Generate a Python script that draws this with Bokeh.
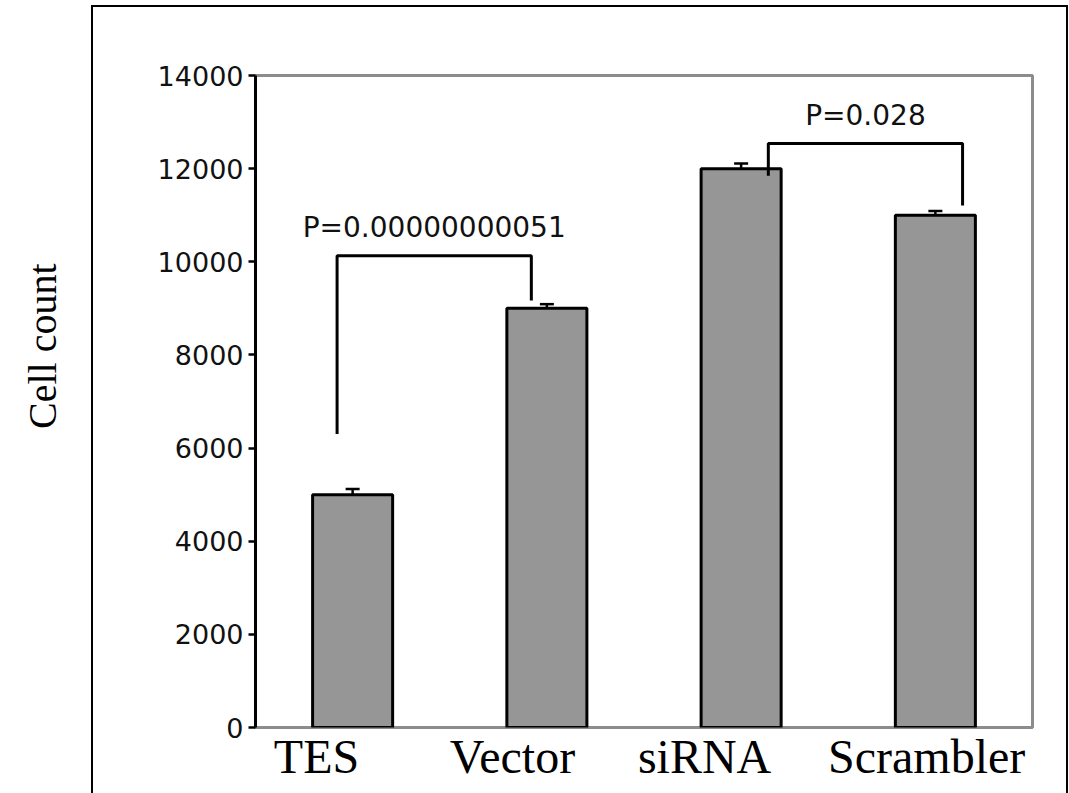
from bokeh.plotting import figure
from bokeh.models import (ColumnDataSource, Range1d, FixedTicker, Whisker,
                          TeeHead, Title, InlineStyleSheet)
from bokeh.core.properties import value
from bokeh.embed import file_html
from bokeh.resources import INLINE

# ---------------- data ----------------
categories = ["TES", "Vector", "siRNA", "Scrambler"]
cell_counts = [5000, 9000, 12000, 11000]
count_errors = [120, 90, 110, 90]
y_ticks = [0, 2000, 4000, 6000, 8000, 10000, 12000, 14000]
y_label = "Cell count"

# significance brackets: (left category, right category)
bracket_pairs = [("TES", "Vector"), ("siRNA", "Scrambler")]
bracket_texts = ["P=0.00000000051", "P=0.028"]
bracket_tops = [10130, 12540]
bracket_left_ends = [6300, 11850]
bracket_right_ends = [9170, 11210]

# ---------------- styling / positions ----------------
W, H = 1069, 793
frame_left, frame_right, frame_top, frame_bottom = 255, 1032, 75, 727
bar_fill = "#969696"
frame_grey = "#8c8c8c"
bracket_leg_shift = [-0.08, 0.14]
cat_label_shift = [-0.186, -0.177, -0.188, -0.045]

idx = {c: i for i, c in enumerate(categories)}
slot = [idx[c] + 0.5 for c in categories]   # slot centre of each category

p = figure(width=W, height=H, output_backend="svg", toolbar_location=None,
           x_range=Range1d(0, len(categories)),
           y_range=Range1d(0, 14000),
           min_border_left=frame_left, min_border_right=W - frame_right,
           min_border_top=frame_top, min_border_bottom=H - frame_bottom)

p.outline_line_color = frame_grey
p.outline_line_width = 3
p.xgrid.visible = False
p.ygrid.visible = False

ya = p.yaxis[0]
ya.ticker = FixedTicker(ticks=y_ticks)
ya.axis_line_color = "black"
ya.axis_line_width = 3
ya.major_tick_line_color = "black"
ya.major_tick_line_width = 2.5
ya.major_tick_out = 7
ya.major_tick_in = 0
ya.minor_tick_line_color = None
ya.major_label_text_font = "DejaVu Sans"
ya.major_label_text_font_size = "27px"
ya.major_label_text_color = "#111111"
ya.major_label_standoff = 5

# category axis: labels sit slightly left of the bar centres
lab_pos = [round(s + d, 3) for s, d in zip(slot, cat_label_shift)]
xa = p.xaxis[0]
xa.ticker = FixedTicker(ticks=lab_pos)
xa.major_label_overrides = {pos: c for pos, c in zip(lab_pos, categories)}
xa.axis_line_color = None
xa.major_tick_line_color = None
xa.minor_tick_line_color = None
xa.major_label_text_font = "Liberation Serif"
xa.major_label_text_font_size = "48px"
xa.major_label_text_color = "black"
xa.major_label_standoff = -4

src = ColumnDataSource(dict(
    x=slot, top=cell_counts,
    upper=[c + e for c, e in zip(cell_counts, count_errors)],
    lower=[c - e for c, e in zip(cell_counts, count_errors)],
))
p.vbar(x="x", top="top", width=0.412, source=src, fill_color=bar_fill,
       line_color="black", line_width=3)

wh = Whisker(base="x", upper="upper", lower="lower", source=src,
             line_color="black", line_width=2.5,
             upper_head=TeeHead(size=14, line_color="black", line_width=2.5),
             lower_head=TeeHead(size=14, line_color="black", line_width=2.5))
p.add_layout(wh)

# brackets
xs, ys, tx, ty = [], [], [], []
for (a, b), sh, top, le, re in zip(bracket_pairs, bracket_leg_shift, bracket_tops,
                                   bracket_left_ends, bracket_right_ends):
    xl = slot[idx[a]] + sh
    xr = slot[idx[b]] + sh
    xs.append([xl, xl, xr, xr])
    ys.append([le, top, top, re])
    tx.append((xl + xr) / 2)
    ty.append(top + 600)
p.multi_line(xs=xs, ys=ys, line_color="black", line_width=3)
p.text(x=tx, y=ty, text=bracket_texts, text_font=value("DejaVu Sans"),
       text_font_size="28px", text_align="center", text_baseline="alphabetic",
       text_color="#111111")

# y axis title (two empty trailing lines push it out to the far left)
p.add_layout(Title(text=y_label + "\n\n", align="right", offset=188, standoff=0,
                   text_font="Liberation Serif", text_font_size="40px",
                   text_font_style="normal", text_color="black"), "left")

# outer border box (page frame around the chart)
p.stylesheets = [InlineStyleSheet(css="""
:host { position: relative; }
:host::after {
  content: ""; position: absolute; left: 91px; top: 5px; width: 977px; height: 800px;
  box-sizing: border-box; border: 2.5px solid black; border-bottom: none;
  pointer-events: none;
}
""")]

open("out.html", "w").write(file_html(p, INLINE))
